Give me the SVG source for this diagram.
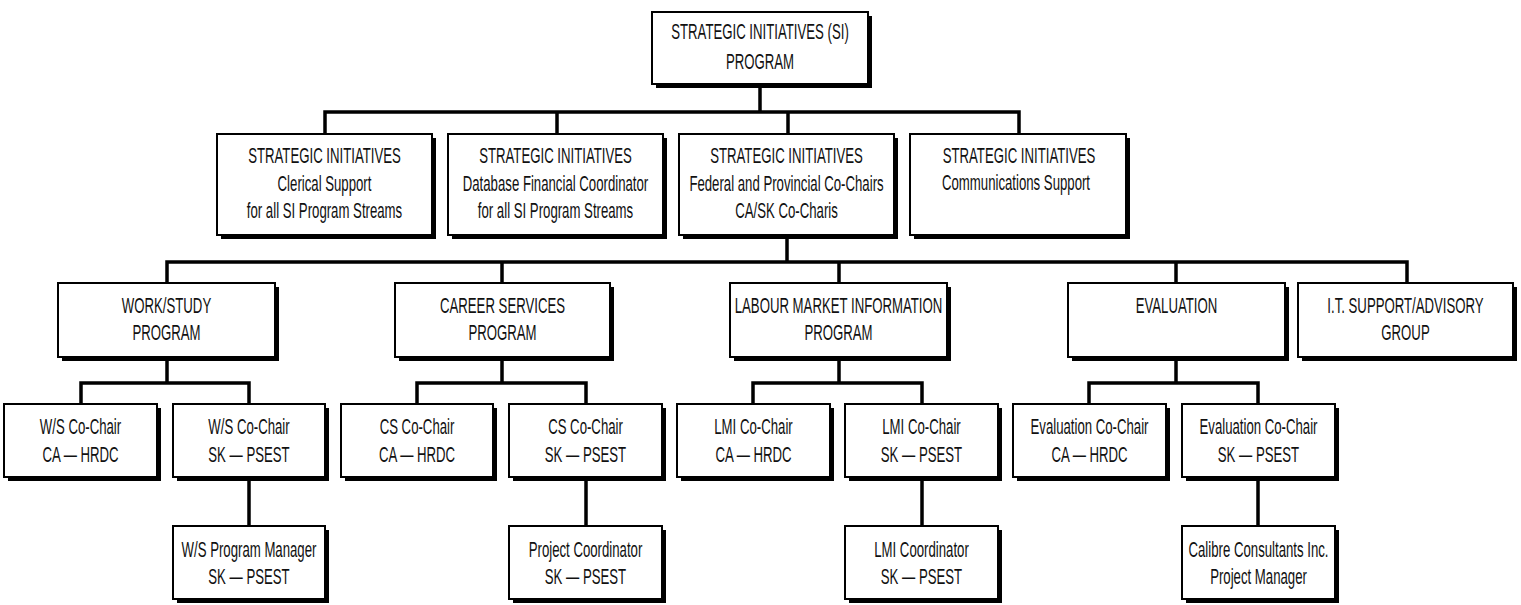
<svg xmlns="http://www.w3.org/2000/svg" width="1521" height="605" viewBox="0 0 1521 605">
<defs>
<style>
.sh{fill:#000}
.bx{fill:#fff;stroke:#000;stroke-width:2}
.t{font-family:"Liberation Sans",Arial,sans-serif;font-size:22px;fill:#111;text-anchor:middle}
.c{stroke:#000;stroke-width:3.5;fill:none;stroke-linecap:square}
</style>
</defs>
<rect width="1521" height="605" fill="#fff"/>
<g id="connectors">
<path class="c" d="M760 84V112M325 133V112H1019V133M557 112V133M788 112V133"/>
<path class="c" d="M787 235V262M167 283V262H1407V283M502 262V283M839 262V283M1176 262V283"/>
<path class="c" d="M167 357V383M81 404V383H249V404M249 477V526"/>
<path class="c" d="M502 357V383M417 404V383H586V404M586 477V526"/>
<path class="c" d="M839 357V383M753 404V383H922V404M922 477V526"/>
<path class="c" d="M1176 357V383M1089 404V383H1258V404M1258 477V526"/>
</g>
<g id="n-si">
<rect class="sh" x="656" y="16" width="216" height="72"/><rect class="bx" x="652" y="12" width="216" height="72"/>
<text class="t" transform="translate(760,38.5) scale(0.6,1)">STRATEGIC INITIATIVES (SI)</text>
<text class="t" transform="translate(760,68.5) scale(0.6,1)">PROGRAM</text>
</g>
<g id="n-clerical">
<rect class="sh" x="221" y="138" width="215" height="101"/><rect class="bx" x="217" y="134" width="215" height="101"/>
<text class="t" transform="translate(324.5,163) scale(0.6,1)">STRATEGIC INITIATIVES</text>
<text class="t" transform="translate(324.5,190.5) scale(0.6,1)">Clerical Support</text>
<text class="t" transform="translate(324.5,218) scale(0.6,1)">for all SI Program Streams</text>
</g>
<g id="n-database">
<rect class="sh" x="452" y="138" width="215" height="101"/><rect class="bx" x="448" y="134" width="215" height="101"/>
<text class="t" transform="translate(555.5,163) scale(0.6,1)">STRATEGIC INITIATIVES</text>
<text class="t" transform="translate(555.5,190.5) scale(0.6,1)">Database Financial Coordinator</text>
<text class="t" transform="translate(555.5,218) scale(0.6,1)">for all SI Program Streams</text>
</g>
<g id="n-federal">
<rect class="sh" x="683" y="138" width="215" height="101"/><rect class="bx" x="679" y="134" width="215" height="101"/>
<text class="t" transform="translate(786.5,163) scale(0.6,1)">STRATEGIC INITIATIVES</text>
<text class="t" transform="translate(786.5,190.5) scale(0.6,1)">Federal and Provincial Co-Chairs</text>
<text class="t" transform="translate(786.5,218) scale(0.6,1)">CA/SK Co-Charis</text>
</g>
<g id="n-comm">
<rect class="sh" x="914" y="138" width="216" height="101"/><rect class="bx" x="910" y="134" width="216" height="101"/>
<text class="t" transform="translate(1019,163) scale(0.6,1)">STRATEGIC INITIATIVES</text>
<text class="t" transform="translate(1016,190) scale(0.6,1)">Communications Support</text>
</g>
<g id="n-ws">
<rect class="sh" x="62" y="287" width="217" height="74"/><rect class="bx" x="58" y="283" width="217" height="74"/>
<text class="t" transform="translate(166.5,313) scale(0.6,1)">WORK/STUDY</text>
<text class="t" transform="translate(166.5,340) scale(0.6,1)">PROGRAM</text>
</g>
<g id="n-cs">
<rect class="sh" x="399" y="287" width="215" height="74"/><rect class="bx" x="395" y="283" width="215" height="74"/>
<text class="t" transform="translate(502.5,313) scale(0.6,1)">CAREER SERVICES</text>
<text class="t" transform="translate(502.5,340) scale(0.6,1)">PROGRAM</text>
</g>
<g id="n-lmi">
<rect class="sh" x="734" y="287" width="217" height="74"/><rect class="bx" x="730" y="283" width="217" height="74"/>
<text class="t" transform="translate(838.5,313) scale(0.6,1)">LABOUR MARKET INFORMATION</text>
<text class="t" transform="translate(838.5,340) scale(0.6,1)">PROGRAM</text>
</g>
<g id="n-eval">
<rect class="sh" x="1072" y="287" width="217" height="74"/><rect class="bx" x="1068" y="283" width="217" height="74"/>
<text class="t" transform="translate(1176.5,313) scale(0.6,1)">EVALUATION</text>
</g>
<g id="n-it">
<rect class="sh" x="1302" y="287" width="215" height="74"/><rect class="bx" x="1298" y="283" width="215" height="74"/>
<text class="t" transform="translate(1405.5,313) scale(0.6,1)">I.T. SUPPORT/ADVISORY</text>
<text class="t" transform="translate(1405.5,340) scale(0.6,1)">GROUP</text>
</g>
<g id="n-ws-ca">
<rect class="sh" x="8" y="408" width="153" height="73"/><rect class="bx" x="4" y="404" width="153" height="73"/>
<text class="t" transform="translate(80.5,434) scale(0.6,1)">W/S Co-Chair</text>
<text class="t" transform="translate(80.5,461.5) scale(0.6,1)">CA — HRDC</text>
</g>
<g id="n-ws-sk">
<rect class="sh" x="177" y="408" width="152" height="73"/><rect class="bx" x="173" y="404" width="152" height="73"/>
<text class="t" transform="translate(249,434) scale(0.6,1)">W/S Co-Chair</text>
<text class="t" transform="translate(249,461.5) scale(0.6,1)">SK — PSEST</text>
</g>
<g id="n-ws-pm">
<rect class="sh" x="177" y="530" width="152" height="73"/><rect class="bx" x="173" y="526" width="152" height="73"/>
<text class="t" transform="translate(249,556.5) scale(0.6,1)">W/S Program Manager</text>
<text class="t" transform="translate(249,583.5) scale(0.6,1)">SK — PSEST</text>
</g>
<g id="n-cs-ca">
<rect class="sh" x="345" y="408" width="152" height="73"/><rect class="bx" x="341" y="404" width="152" height="73"/>
<text class="t" transform="translate(417,434) scale(0.6,1)">CS Co-Chair</text>
<text class="t" transform="translate(417,461.5) scale(0.6,1)">CA — HRDC</text>
</g>
<g id="n-cs-sk">
<rect class="sh" x="513" y="408" width="153" height="73"/><rect class="bx" x="509" y="404" width="153" height="73"/>
<text class="t" transform="translate(585.5,434) scale(0.6,1)">CS Co-Chair</text>
<text class="t" transform="translate(585.5,461.5) scale(0.6,1)">SK — PSEST</text>
</g>
<g id="n-cs-pc">
<rect class="sh" x="513" y="530" width="153" height="73"/><rect class="bx" x="509" y="526" width="153" height="73"/>
<text class="t" transform="translate(585.5,556.5) scale(0.6,1)">Project Coordinator</text>
<text class="t" transform="translate(585.5,583.5) scale(0.6,1)">SK — PSEST</text>
</g>
<g id="n-lmi-ca">
<rect class="sh" x="681" y="408" width="153" height="73"/><rect class="bx" x="677" y="404" width="153" height="73"/>
<text class="t" transform="translate(753.5,434) scale(0.6,1)">LMI Co-Chair</text>
<text class="t" transform="translate(753.5,461.5) scale(0.6,1)">CA — HRDC</text>
</g>
<g id="n-lmi-sk">
<rect class="sh" x="849" y="408" width="153" height="73"/><rect class="bx" x="845" y="404" width="153" height="73"/>
<text class="t" transform="translate(921.5,434) scale(0.6,1)">LMI Co-Chair</text>
<text class="t" transform="translate(921.5,461.5) scale(0.6,1)">SK — PSEST</text>
</g>
<g id="n-lmi-co">
<rect class="sh" x="849" y="530" width="153" height="73"/><rect class="bx" x="845" y="526" width="153" height="73"/>
<text class="t" transform="translate(921.5,556.5) scale(0.6,1)">LMI Coordinator</text>
<text class="t" transform="translate(921.5,583.5) scale(0.6,1)">SK — PSEST</text>
</g>
<g id="n-ev-ca">
<rect class="sh" x="1017" y="408" width="153" height="73"/><rect class="bx" x="1013" y="404" width="153" height="73"/>
<text class="t" transform="translate(1089.5,434) scale(0.6,1)">Evaluation Co-Chair</text>
<text class="t" transform="translate(1089.5,461.5) scale(0.6,1)">CA — HRDC</text>
</g>
<g id="n-ev-sk">
<rect class="sh" x="1186" y="408" width="153" height="73"/><rect class="bx" x="1182" y="404" width="153" height="73"/>
<text class="t" transform="translate(1258.5,434) scale(0.6,1)">Evaluation Co-Chair</text>
<text class="t" transform="translate(1258.5,461.5) scale(0.6,1)">SK — PSEST</text>
</g>
<g id="n-ev-cal">
<rect class="sh" x="1186" y="530" width="153" height="73"/><rect class="bx" x="1182" y="526" width="153" height="73"/>
<text class="t" transform="translate(1258.5,556.5) scale(0.6,1)">Calibre Consultants Inc.</text>
<text class="t" transform="translate(1258.5,583.5) scale(0.6,1)">Project Manager</text>
</g>
</svg>
